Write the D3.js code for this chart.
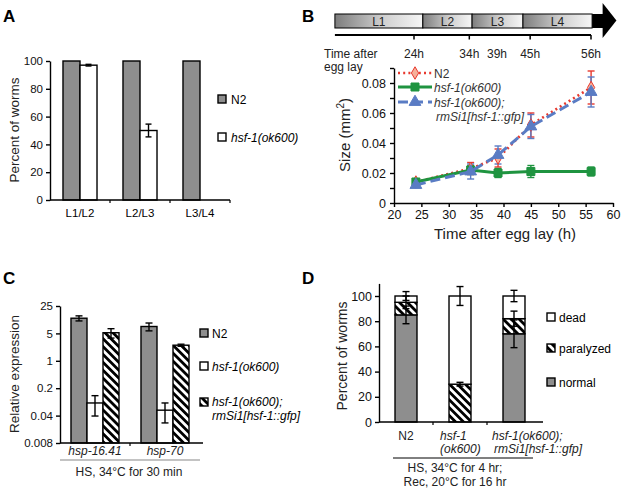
<!DOCTYPE html>
<html><head><meta charset="utf-8">
<script src="https://cdn.jsdelivr.net/npm/d3@7"></script>
<style>
body{margin:0;background:#fff}
svg{display:block;font-family:"Liberation Sans",Arial,Helvetica,sans-serif}
</style>
</head><body><svg id="c" width="622" height="489"></svg>
<script>
// ---------------- DATA ----------------
// Panel A
const aCategories = ["L1/L2", "L2/L3", "L3/L4"];
const aSeries = ["N2", "hsf-1(ok600)"];
const aN2 = [100, 100, 100];
const aHsf = [97, 50, 0];
const aHsfErr = [0.6, 4.6, 0];
const aTicks = [0, 20, 40, 60, 80, 100];

// Panel B timeline (schematic, hours)
const stageNames = ["L1", "L2", "L3", "L4"];
const stageStartH = [9.7, 25.6, 34.5, 43.7];
const stageEndH = 56.2;
const timeLabelsH = [24, 34, 39, 45, 56];
const timeTicksH = [24, 34, 45, 56];

// Panel B growth
const bHours = [24, 34, 39, 45, 56];
const bN2 = [0.014, 0.023, 0.030, 0.052, 0.077];
const bN2Err = [0.001, 0.004, 0.006, 0.008, 0.011];
const bHsf = [0.014, 0.022, 0.020, 0.021, 0.021];
const bHsfErr = [0.002, 0.003, 0.003, 0.004, 0.003];
const bResc = [0.012, 0.021, 0.032, 0.051, 0.074];
const bRescErr = [0.001, 0.005, 0.006, 0.008, 0.010];
const bXTicks = [20, 25, 30, 35, 40, 45, 50, 55, 60];
const bYTicks = [0, 0.01, 0.02, 0.03, 0.04, 0.05, 0.06, 0.07, 0.08, 0.09];

// Panel C
const cGenes = ["hsp-16.41", "hsp-70"];
const cSeries = ["N2", "hsf-1(ok600)", "rescue"];
const cN2 = [12.2, 7.5];
const cN2Err = [1.8, 1.7];
const cHsf = [0.084, 0.055];
const cHsfErr = [0.045, 0.029];
const cResc = [5.2, 2.5];
const cRescErr = [1.4, 0.15];
const cTicks = [0.008, 0.04, 0.2, 1, 5, 25];

// Panel D
const dStrains = ["N2", "hsf-1 (ok600)", "rescue"];
const dLabels = [["N2"], ["hsf-1", "(ok600)"], ["hsf-1(ok600);", "rmSi1[hsf-1::gfp]"]];
const dNormal = [85, 0, 70];
const dNormalErr = [7, 0, 11];
const dParalyzed = [10, 30, 12];
const dParalyzedErr = [5, 1.5, 6];
const dDead = [5, 70, 18];
const dDeadErr = [3.5, 7.5, 4.5];
const dTicks = [0, 20, 40, 60, 80, 100];

// ---------------- STYLE ----------------
const GRAY = "#8e8e8e";
const RED = "#e8392e", GREEN = "#1f9440", BLUE = "#5a7cc4";
const svg = d3.select("#c");
const defs = svg.append("defs");
const pat = defs.append("pattern").attr("id", "hatch").attr("patternUnits", "userSpaceOnUse")
  .attr("width", 5.6).attr("height", 5.6).attr("patternTransform", "rotate(-45)");
pat.append("rect").attr("width", 5.6).attr("height", 5.6).attr("fill", "#fff");
pat.append("rect").attr("width", 2.8).attr("height", 5.6).attr("fill", "#000");
const grad = defs.append("linearGradient").attr("id", "stg").attr("x1", "0").attr("x2", "1");
grad.append("stop").attr("offset", "0").attr("stop-color", "#7d7d7d");
grad.append("stop").attr("offset", "0.55").attr("stop-color", "#d0d0d0");
grad.append("stop").attr("offset", "1").attr("stop-color", "#f6f6f6");

function styleAxis(g) {
  g.selectAll("path,line").attr("stroke", "#000").attr("stroke-width", 1.4);
  g.selectAll("text").attr("fill", "#111");
}
function panelLabel(t, x, y) {
  svg.append("text").attr("x", x).attr("y", y).text(t)
    .attr("font-size", 17).attr("font-weight", "bold");
}
function errBar(g, x, y1, y2, color, cap) {
  g.append("line").attr("x1", x).attr("x2", x).attr("y1", y1).attr("y2", y2)
    .attr("stroke", color).attr("stroke-width", 1.4);
  [y1, y2].forEach(y => g.append("line").attr("x1", x - cap).attr("x2", x + cap)
    .attr("y1", y).attr("y2", y).attr("stroke", color).attr("stroke-width", 1.4));
}
function swatch(g, x, y, fill) {
  g.append("rect").attr("x", x).attr("y", y - 4).attr("width", 8).attr("height", 8)
    .attr("fill", fill).attr("stroke", "#000").attr("stroke-width", 1.4);
}

// ---------------- PANEL A ----------------
{
  panelLabel("A", 3, 22);
  const g = svg.append("g");
  const x0 = d3.scaleBand().domain(aCategories).range([50, 230]).paddingInner(0.433).paddingOuter(0.2165);
  const x1 = d3.scaleBand().domain(aSeries).range([0, x0.bandwidth()]);
  const y = d3.scaleLinear().domain([0, 100]).range([200, 61]);
  const vals = [aN2, aHsf];
  vals.forEach((arr, si) => {
    arr.forEach((v, i) => {
      if (v <= 0) return;
      g.append("rect").attr("x", x0(aCategories[i]) + x1(aSeries[si])).attr("y", y(v))
        .attr("width", x1.bandwidth()).attr("height", y(0) - y(v))
        .attr("fill", si === 0 ? GRAY : "#fff").attr("stroke", "#000").attr("stroke-width", 1.4);
    });
  });
  aHsf.forEach((v, i) => {
    if (v <= 0) return;
    const cx = x0(aCategories[i]) + x1(aSeries[1]) + x1.bandwidth() / 2;
    errBar(g, cx, y(v + aHsfErr[i]), y(v - aHsfErr[i]), "#000", 3);
  });
  const ya = g.append("g").attr("transform", "translate(50,0)")
    .call(d3.axisLeft(y).tickValues(aTicks).tickSize(4).tickSizeOuter(0).tickPadding(3))
    .attr("font-size", 11.5).attr("font-family", null);
  styleAxis(ya);
  const xa = g.append("g").attr("transform", "translate(0,200)");
  xa.append("line").attr("x1", 50).attr("x2", 230).attr("stroke", "#000").attr("stroke-width", 1.4);
  const gapA = (x0.step() - x0.bandwidth()) / 2;
  aCategories.slice(1).forEach(c => xa.append("line").attr("x1", x0(c) - gapA)
    .attr("x2", x0(c) - gapA).attr("y1", 0).attr("y2", 3)
    .attr("stroke", "#000").attr("stroke-width", 1.2));
  xa.append("line").attr("x1", 230).attr("x2", 230).attr("y1", 0).attr("y2", 3).attr("stroke", "#000").attr("stroke-width", 1.2);
  aCategories.forEach(c => xa.append("text").attr("x", x0(c) + x0.bandwidth() / 2).attr("y", 17)
    .attr("text-anchor", "middle").attr("font-size", 11.5).text(c));
  g.append("text").attr("transform", "translate(19,130) rotate(-90)").attr("text-anchor", "middle")
    .attr("font-size", 13.5).attr("fill", "#222").text("Percent of worms");
  // legend
  swatch(g, 218, 99, GRAY);
  g.append("text").attr("x", 231).attr("y", 103.5).attr("font-size", 12).text(aSeries[0]);
  swatch(g, 218, 137, "#fff");
  g.append("text").attr("x", 231).attr("y", 141.5).attr("font-size", 12).attr("font-style", "italic").text(aSeries[1]);
}

// ---------------- PANEL B ----------------
{
  panelLabel("B", 302, 22);
  const g = svg.append("g");
  // timeline
  const t = d3.scaleLinear().domain([24, 56]).range([414, 591]);
  stageNames.forEach((s, i) => {
    const x1 = t(stageStartH[i]), x2 = t(i < 3 ? stageStartH[i + 1] : stageEndH);
    g.append("rect").attr("x", x1).attr("y", 14).attr("width", x2 - x1).attr("height", 14)
      .attr("fill", "url(#stg)").attr("stroke", "#000").attr("stroke-width", 1);
    g.append("text").attr("x", (x1 + x2) / 2).attr("y", 25.5).attr("text-anchor", "middle")
      .attr("font-size", 12).attr("fill", "#222").text(s);
  });
  const xe = t(stageEndH), xb = t(58.1), xt = t(60.6);
  g.append("rect").attr("x", xe).attr("y", 14).attr("width", xb - xe + 0.5).attr("height", 14).attr("fill", "#000");
  g.append("path").attr("d", `M${xb},3 L${xt},20.5 L${xb},38 Z`).attr("fill", "#000");
  g.append("line").attr("x1", t(stageStartH[0])).attr("x2", t(56)).attr("y1", 35).attr("y2", 35)
    .attr("stroke", "#000").attr("stroke-width", 1.8);
  timeTicksH.forEach(h => g.append("line").attr("x1", t(h)).attr("x2", t(h)).attr("y1", 35).attr("y2", 39.5)
    .attr("stroke", "#000").attr("stroke-width", 1.5));
  timeLabelsH.forEach(h => g.append("text").attr("x", t(h)).attr("y", 58).attr("text-anchor", "middle")
    .attr("font-size", 12).attr("fill", "#222").text(h + "h"));
  g.append("text").attr("x", 324).attr("y", 58).attr("font-size", 12).attr("fill", "#222").text("Time after");
  g.append("text").attr("x", 324).attr("y", 71).attr("font-size", 12).attr("fill", "#222").text("egg lay");

  // growth plot
  const x = d3.scaleLinear().domain([20, 60]).range([394, 613]);
  const y = d3.scaleLinear().domain([0, 0.09]).range([203, 68]);
  const xa = g.append("g").attr("transform", "translate(0,203)")
    .call(d3.axisBottom(x).tickValues(bXTicks).tickSize(4).tickSizeOuter(0).tickPadding(3))
    .attr("font-size", 12.5).attr("font-family", null);
  styleAxis(xa);
  const ya = g.append("g").attr("transform", "translate(394,0)")
    .call(d3.axisLeft(y).tickValues(bYTicks).tickSize(4).tickSizeOuter(0).tickPadding(4)
      .tickFormat(d => (Math.round(d * 100) % 2 === 0) ? (d === 0 ? "0" : d3.format(".2f")(d)) : ""))
    .attr("font-size", 12.5).attr("font-family", null);
  styleAxis(ya);
  g.append("text").attr("x", 505).attr("y", 239).attr("text-anchor", "middle").attr("font-size", 15)
    .attr("fill", "#222").text("Time after egg lay (h)");
  const yl = g.append("text").attr("transform", "translate(350,135) rotate(-90)").attr("text-anchor", "middle")
    .attr("font-size", 15).attr("fill", "#222");
  yl.append("tspan").text("Size (mm");
  yl.append("tspan").attr("font-size", 10).attr("dy", -6).text("2");
  yl.append("tspan").attr("dy", 6).text(")");

  const series = [
    {v: bN2, e: bN2Err, c: RED, dash: "2,3.2", w: 2.6, m: "diamond"},
    {v: bHsf, e: bHsfErr, c: GREEN, dash: null, w: 3, m: "square"},
    {v: bResc, e: bRescErr, c: BLUE, dash: "10,5", w: 3, m: "triangle"}
  ];
  const line = d3.line().x((d, i) => x(bHours[i])).y(d => y(d));
  const sym = {diamond: d3.symbolDiamond, square: d3.symbolSquare, triangle: d3.symbolTriangle};
  const symSize = {diamond: 45, square: 64, triangle: 60};
  series.forEach(s => {
    s.v.forEach((v, i) => errBar(g, x(bHours[i]), y(v + s.e[i]), y(v - s.e[i]), s.c, 3.5));
  });
  series.forEach(s => {
    const p = g.append("path").datum(s.v).attr("d", line).attr("fill", "none").attr("stroke", s.c)
      .attr("stroke-width", s.w);
    if (s.dash) p.attr("stroke-dasharray", s.dash);
    s.v.forEach((v, i) => g.append("path").attr("d", d3.symbol(sym[s.m], symSize[s.m])())
      .attr("transform", `translate(${x(bHours[i])},${y(v)})`)
      .attr("fill", s.m === "diamond" ? "#f6b09a" : s.c).attr("stroke", s.c).attr("stroke-width", 1));
  });
  // legend
  const legY = [73, 87, 102];
  const legTxt = ["N2", "hsf-1(ok600)", "hsf-1(ok600);"];
  series.forEach((s, i) => {
    const l = g.append("line").attr("x1", 398).attr("x2", 432).attr("y1", legY[i]).attr("y2", legY[i])
      .attr("stroke", s.c).attr("stroke-width", s.w);
    if (s.dash) l.attr("stroke-dasharray", s.dash);
    g.append("path").attr("d", d3.symbol(sym[s.m], symSize[s.m])())
      .attr("transform", `translate(415,${legY[i]})`)
      .attr("fill", s.m === "diamond" ? "#f6b09a" : s.c).attr("stroke", s.c).attr("stroke-width", 1);
    g.append("text").attr("x", 434).attr("y", legY[i] + 4.5).attr("font-size", 12).attr("fill", "#333")
      .attr("font-style", i === 0 ? "normal" : "italic").text(legTxt[i]);
  });
  g.append("text").attr("x", 436).attr("y", 121).attr("font-size", 12).attr("fill", "#333")
    .attr("font-style", "italic").text("rmSi1[hsf-1::gfp]");
}

// ---------------- PANEL C ----------------
{
  panelLabel("C", 3, 284);
  const g = svg.append("g");
  const x0 = d3.scaleBand().domain(cGenes).range([60, 200]).paddingInner(0.314).paddingOuter(0.157);
  const x1 = d3.scaleBand().domain(cSeries).range([0, x0.bandwidth()]);
  const y = d3.scaleLog().domain([0.008, 25]).range([443, 306]);
  const vals = [cN2, cHsf, cResc], errs = [cN2Err, cHsfErr, cRescErr];
  const fills = [GRAY, "#fff", "url(#hatch)"];
  vals.forEach((arr, si) => arr.forEach((v, i) => {
    g.append("rect").attr("x", x0(cGenes[i]) + x1(cSeries[si])).attr("y", y(v))
      .attr("width", x1.bandwidth()).attr("height", y(0.008) - y(v))
      .attr("fill", fills[si]).attr("stroke", "#000").attr("stroke-width", 1.4);
  }));
  vals.forEach((arr, si) => arr.forEach((v, i) => {
    const cx = x0(cGenes[i]) + x1(cSeries[si]) + x1.bandwidth() / 2;
    errBar(g, cx, y(v + errs[si][i]), y(v - errs[si][i]), "#000", 3.5);
  }));
  const ya = g.append("g").attr("transform", "translate(60,0)")
    .call(d3.axisLeft(y).tickValues(cTicks).tickFormat(d => String(d)).tickSize(4).tickSizeOuter(0).tickPadding(3))
    .attr("font-size", 11.5).attr("font-family", null);
  styleAxis(ya);
  const xa = g.append("g").attr("transform", "translate(0,443)");
  xa.append("line").attr("x1", 60).attr("x2", 203).attr("stroke", "#000").attr("stroke-width", 1.4);
  const gapC = (x0.step() - x0.bandwidth()) / 2;
  xa.append("line").attr("x1", x0(cGenes[1]) - gapC).attr("x2", x0(cGenes[1]) - gapC).attr("y1", 0).attr("y2", 3)
    .attr("stroke", "#000").attr("stroke-width", 1.2);
  cGenes.forEach(c => xa.append("text").attr("x", x0(c) + x0.bandwidth() / 2).attr("y", 11.5)
    .attr("text-anchor", "middle").attr("font-size", 12).attr("font-style", "italic").attr("fill", "#222").text(c));
  g.append("line").attr("x1", 60).attr("x2", 200).attr("y1", 460).attr("y2", 460).attr("stroke", "#888").attr("stroke-width", 1.2);
  g.append("text").attr("x", 129).attr("y", 475.5).attr("text-anchor", "middle").attr("font-size", 12)
    .attr("fill", "#222").text("HS, 34°C for 30 min");
  g.append("text").attr("transform", "translate(19,374) rotate(-90)").attr("text-anchor", "middle")
    .attr("font-size", 13.5).attr("fill", "#222").text("Relative expression");
  // legend
  swatch(g, 200, 333, GRAY);
  g.append("text").attr("x", 212).attr("y", 337.5).attr("font-size", 12).text("N2");
  swatch(g, 200, 366, "#fff");
  g.append("text").attr("x", 212).attr("y", 370.5).attr("font-size", 12).attr("font-style", "italic").text("hsf-1(ok600)");
  swatch(g, 200, 402, "url(#hatch)");
  g.append("text").attr("x", 212).attr("y", 406).attr("font-size", 12).attr("font-style", "italic").text("hsf-1(ok600);");
  g.append("text").attr("x", 212).attr("y", 420).attr("font-size", 12).attr("font-style", "italic").text("rmSi1[hsf-1::gfp]");
}

// ---------------- PANEL D ----------------
{
  panelLabel("D", 302, 284);
  const g = svg.append("g");
  const x = d3.scaleBand().domain(dStrains).range([379, 541]).paddingInner(0.593).paddingOuter(0.2965);
  const y = d3.scaleLinear().domain([0, 110]).range([422, 283.4]);
  const layers = [
    {v: dNormal, e: dNormalErr, f: GRAY},
    {v: dParalyzed, e: dParalyzedErr, f: "url(#hatch)"},
    {v: dDead, e: dDeadErr, f: "#fff"}
  ];
  const base = dStrains.map(() => 0);
  const tops = [];
  layers.forEach(L => {
    const t = [];
    L.v.forEach((v, i) => {
      const y0 = base[i], y1 = base[i] + v;
      if (v > 0) g.append("rect").attr("x", x(dStrains[i])).attr("y", y(y1)).attr("width", x.bandwidth())
        .attr("height", y(y0) - y(y1)).attr("fill", L.f).attr("stroke", "#000").attr("stroke-width", 1.4);
      base[i] = y1; t.push(y1);
    });
    tops.push(t);
  });
  layers.forEach((L, li) => L.v.forEach((v, i) => {
    if (v <= 0 || L.e[i] <= 0) return;
    const cx = x(dStrains[i]) + x.bandwidth() / 2;
    errBar(g, cx, y(tops[li][i] + L.e[i]), y(tops[li][i] - L.e[i]), "#000", 3.5);
  }));
  const ya = g.append("g").attr("transform", "translate(379,0)")
    .call(d3.axisLeft(y).tickValues(dTicks).tickSize(4).tickSizeOuter(0).tickPadding(3))
    .attr("font-size", 12.5).attr("font-family", null);
  styleAxis(ya);
  const xa = g.append("g").attr("transform", "translate(0,422)");
  xa.append("line").attr("x1", 379).attr("x2", 543).attr("stroke", "#000").attr("stroke-width", 1.4);
  const gapD = (x.step() - x.bandwidth()) / 2;
  dStrains.slice(1).forEach(s => xa.append("line").attr("x1", x(s) - gapD)
    .attr("x2", x(s) - gapD).attr("y1", 0).attr("y2", 3)
    .attr("stroke", "#000").attr("stroke-width", 1.2));
  dLabels.forEach((lines, i) => {
    const cx = x(dStrains[i]) + x.bandwidth() / 2;
    lines.forEach((t, k) => {
      const tx = xa.append("text").attr("y", 18 + k * 13).attr("font-size", 12).attr("fill", "#222").text(t);
      if (i === 0) tx.attr("x", cx).attr("text-anchor", "middle");
      else tx.attr("x", cx - (i === 1 ? 20 : 22 - k * 2)).attr("font-style", "italic");
    });
  });
  g.append("line").attr("x1", 393).attr("x2", 533).attr("y1", 458).attr("y2", 458).attr("stroke", "#000").attr("stroke-width", 1);
  g.append("text").attr("x", 455).attr("y", 472).attr("text-anchor", "middle").attr("font-size", 12)
    .attr("fill", "#222").text("HS, 34°C for 4 hr;");
  g.append("text").attr("x", 455).attr("y", 485.5).attr("text-anchor", "middle").attr("font-size", 12)
    .attr("fill", "#222").text("Rec, 20°C for 16 hr");
  g.append("text").attr("transform", "translate(347,356) rotate(-90)").attr("text-anchor", "middle")
    .attr("font-size", 14).attr("fill", "#222").text("Percent of worms");
  // legend
  swatch(g, 547, 317, "#fff");
  g.append("text").attr("x", 559).attr("y", 321.5).attr("font-size", 12).text("dead");
  swatch(g, 547, 348, "url(#hatch)");
  g.append("text").attr("x", 559).attr("y", 352.5).attr("font-size", 12).text("paralyzed");
  swatch(g, 547, 382, GRAY);
  g.append("text").attr("x", 559).attr("y", 386.5).attr("font-size", 12).text("normal");
}
</script>
</body></html>
